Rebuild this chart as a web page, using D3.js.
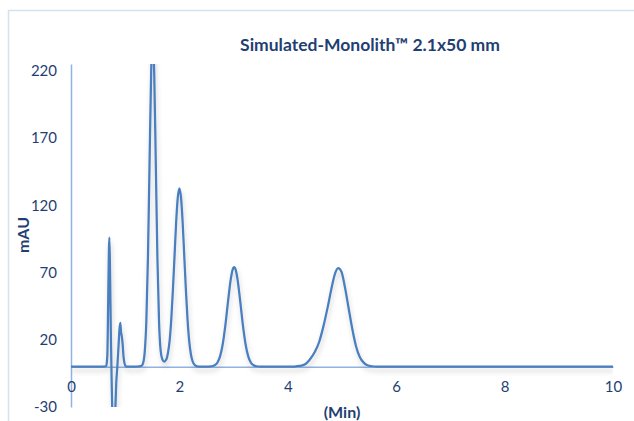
<!DOCTYPE html>
<html>
<head>
<meta charset="utf-8">
<script src="https://cdn.jsdelivr.net/npm/d3@7"></script>
<style>
  body { margin: 0; background: #fff; }
  text { font-family: Lato, "Open Sans", sans-serif; }
</style>
</head>
<body>
<svg id="chart" width="634" height="421"></svg>
<script>
// retention time (min) and detector signal (mAU)
var times = [0, 0.3, 0.6, 0.65, 0.67, 0.685, 0.70, 0.708, 0.72, 0.735, 0.75, 0.765, 0.78, 0.80, 0.815, 0.835,
  0.855, 0.875, 0.895, 0.91, 0.922, 0.935, 0.95, 0.97, 0.99, 1.02, 1.15, 1.26,
  1.30, 1.33, 1.36, 1.39, 1.42, 1.45, 1.48, 1.507, 1.535, 1.565, 1.595, 1.625, 1.655, 1.685, 1.72,
  1.76, 1.79, 1.82, 1.85, 1.88, 1.91, 1.94, 1.97, 2.00, 2.03, 2.06, 2.09, 2.12, 2.15, 2.18, 2.21, 2.24, 2.27, 2.30, 2.36,
  2.50, 2.55, 2.60, 2.65, 2.70, 2.75, 2.80, 2.85, 2.90, 2.95, 2.98, 3.01, 3.04, 3.07, 3.12, 3.17, 3.22, 3.27, 3.32, 3.37, 3.42, 3.50,
  4.00, 4.12, 4.22, 4.32, 4.40, 4.50, 4.58, 4.66, 4.74, 4.80, 4.87, 4.93, 4.99, 5.05, 5.12, 5.19, 5.26, 5.33, 5.40, 5.47, 5.55, 5.65,
  7.0, 8.5, 10];
var mau = [0, 0, 0, 0.5, 8, 45, 88, 96, 72, 25, -10, -40, -55, -55, -35, -12,
  0, 14, 28, 32.5, 26, 23, 18, 7, 2, 0, 0, 0.2,
  0.6, 2.6, 10.8, 33.8, 81.8, 153, 220.5, 245, 218.5, 150, 79.6, 32.6, 11.5, 5.5, 3.8,
  5.5, 10.5, 19.4, 35.1, 57, 82, 107.3, 125.6, 132.6, 125.6, 107.3, 82, 57, 35.1, 19.4, 9.8, 4.4, 1.8, 0.7, 0.1,
  0, 0.1, 0.3, 1.0, 2.9, 7.6, 16.8, 31.4, 49.4, 65.6, 71.8, 74, 71.8, 65.6, 49.4, 31.4, 16.8, 7.6, 2.9, 1.0, 0.3, 0,
  0, 0.1, 0.5, 1.8, 5, 11, 18.5, 30.5, 45, 57, 69, 73.2, 70.5, 60, 44, 28, 15, 7, 3, 1, 0.3, 0,
  0, 0, 0];

var xTicks = [0, 2, 4, 6, 8, 10];
var yTicks = [-30, 20, 70, 120, 170, 220];
var title = "Simulated-Monolith\u2122 2.1x50 mm";

var svg = d3.select("#chart");
var textColor = "#1f3f73";
var axisColor = "#8fb3e3";

// chart area border
svg.append("rect")
  .attr("x", 8.5).attr("y", 10.5)
  .attr("width", 700).attr("height", 500)
  .attr("fill", "none")
  .attr("stroke", "#d6e1ef")
  .attr("stroke-width", 1.5);

var x = d3.scaleLinear().domain([0, 10]).range([71, 613]);
var y = d3.scaleLinear().domain([-30, 225]).range([407, 64]);

// shadow under the trace
var defs = svg.append("defs");
defs.append("clipPath").attr("id", "plot")
  .append("rect")
  .attr("x", 71).attr("y", 64)
  .attr("width", 542).attr("height", 343);
var f = defs.append("filter").attr("id", "shadow")
  .attr("x", "-10%").attr("y", "-10%").attr("width", "120%").attr("height", "130%");
f.append("feDropShadow")
  .attr("dx", 1).attr("dy", 4)
  .attr("stdDeviation", 2.5)
  .attr("flood-color", "#000")
  .attr("flood-opacity", 0.18);

var plain = function(d) { return String(d); };

// y axis
var yAxis = svg.append("g")
  .attr("transform", "translate(71,0)")
  .call(d3.axisLeft(y).tickValues(yTicks).tickFormat(plain).tickSize(0).tickPadding(14));
yAxis.select(".domain").attr("stroke", axisColor).attr("stroke-width", 1.5);
yAxis.selectAll("text")
  .attr("fill", textColor)
  .style("font-size", "15px");

// x axis sits on zero
var xAxis = svg.append("g")
  .attr("transform", "translate(0," + y(0) + ")")
  .call(d3.axisBottom(x).tickValues(xTicks).tickFormat(plain).tickSize(0));
xAxis.select(".domain").attr("stroke", axisColor).attr("stroke-width", 1.5);
xAxis.selectAll("text")
  .attr("y", 25)
  .attr("dy", 0)
  .attr("fill", textColor)
  .style("font-size", "15px");

var pts = times.map(function(t, i) { return [t, mau[i]]; });

var line = d3.line()
  .x(function(d) { return x(d[0]); })
  .y(function(d) { return y(d[1]); })
  .curve(d3.curveMonotoneX);

svg.append("g")
  .attr("clip-path", "url(#plot)")
  .append("path")
  .datum(pts)
  .attr("d", line)
  .attr("fill", "none")
  .attr("stroke", "#4a7ebf")
  .attr("stroke-width", 2.25)
  .attr("stroke-linejoin", "round")
  .attr("filter", "url(#shadow)");

// titles
svg.append("text")
  .attr("x", 370).attr("y", 51)
  .attr("text-anchor", "middle")
  .attr("fill", textColor)
  .style("font-size", "17.5px")
  .style("font-weight", "bold")
  .text(title);

svg.append("text")
  .attr("transform", "translate(29,235) rotate(-90)")
  .attr("text-anchor", "middle")
  .attr("fill", textColor)
  .style("font-size", "16px")
  .style("font-weight", "bold")
  .text("mAU");

svg.append("text")
  .attr("x", 342).attr("y", 418)
  .attr("text-anchor", "middle")
  .attr("fill", textColor)
  .style("font-size", "16px")
  .style("font-weight", "bold")
  .text("(Min)");
</script>
</body>
</html>
